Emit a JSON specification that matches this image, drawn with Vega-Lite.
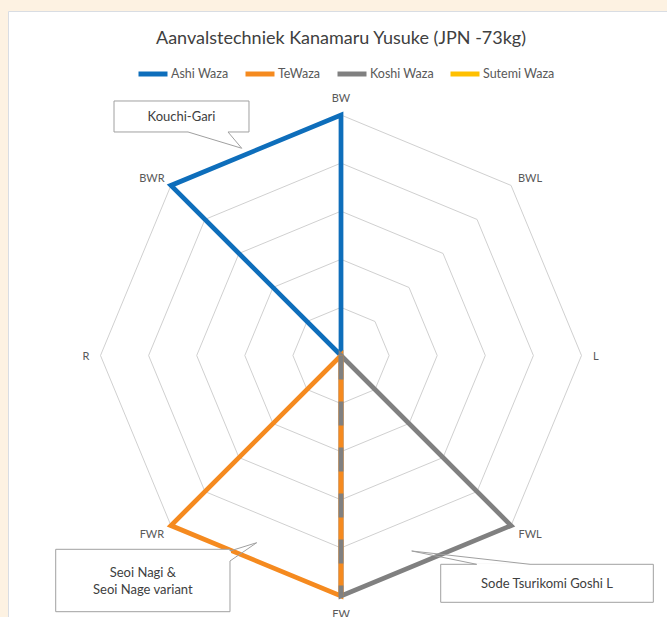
{
  "$schema": "https://vega.github.io/schema/vega-lite/v6.json",
  "autosize": {"type": "none"},
  "width": 661,
  "height": 608,
  "padding": {"left": 8, "top": 11, "right": -2, "bottom": -2},
  "background": "#FDF2E2",
  "config": {"view": {"stroke": "#d9dde3", "fill": "#ffffff"}, "font": "Lato"},
  "title": {
    "text": "Aanvalstechniek Kanamaru Yusuke (JPN -73kg)",
    "frame": "group", "anchor": "middle", "orient": "top", "offset": 0,
    "dy": 51, "dx": 2.5, "baseline": "alphabetic",
    "fontSize": 18, "fontWeight": "normal", "font": "Lato", "color": "#404040"
  },
  "datasets": {
    "dirs": [
      {"dir": "BW", "k": 0}, {"dir": "BWL", "k": 1}, {"dir": "L", "k": 2}, {"dir": "FWL", "k": 3},
      {"dir": "FW", "k": 4}, {"dir": "FWR", "k": 5}, {"dir": "R", "k": 6}, {"dir": "BWR", "k": 7}
    ],
    "rings": [
      {"level": 1, "k": [0, 1, 2, 3, 4, 5, 6, 7]},
      {"level": 2, "k": [0, 1, 2, 3, 4, 5, 6, 7]},
      {"level": 3, "k": [0, 1, 2, 3, 4, 5, 6, 7]},
      {"level": 4, "k": [0, 1, 2, 3, 4, 5, 6, 7]},
      {"level": 5, "k": [0, 1, 2, 3, 4, 5, 6, 7]}
    ],
    "scores": [
      {"series": "Ashi Waza", "dir": "BW", "value": 5},
      {"series": "Ashi Waza", "dir": "BWL", "value": 0},
      {"series": "Ashi Waza", "dir": "L", "value": 0},
      {"series": "Ashi Waza", "dir": "FWL", "value": 0},
      {"series": "Ashi Waza", "dir": "FW", "value": 0},
      {"series": "Ashi Waza", "dir": "FWR", "value": 0},
      {"series": "Ashi Waza", "dir": "R", "value": 0},
      {"series": "Ashi Waza", "dir": "BWR", "value": 5},
      {"series": "TeWaza", "dir": "BW", "value": 0},
      {"series": "TeWaza", "dir": "BWL", "value": 0},
      {"series": "TeWaza", "dir": "L", "value": 0},
      {"series": "TeWaza", "dir": "FWL", "value": 0},
      {"series": "TeWaza", "dir": "FW", "value": 5},
      {"series": "TeWaza", "dir": "FWR", "value": 5},
      {"series": "TeWaza", "dir": "R", "value": 0},
      {"series": "TeWaza", "dir": "BWR", "value": 0},
      {"series": "Koshi Waza", "dir": "BW", "value": 0},
      {"series": "Koshi Waza", "dir": "BWL", "value": 0},
      {"series": "Koshi Waza", "dir": "L", "value": 0},
      {"series": "Koshi Waza", "dir": "FWL", "value": 5},
      {"series": "Koshi Waza", "dir": "FW", "value": 5},
      {"series": "Koshi Waza", "dir": "FWR", "value": 0},
      {"series": "Koshi Waza", "dir": "R", "value": 0},
      {"series": "Koshi Waza", "dir": "BWR", "value": 0},
      {"series": "Sutemi Waza", "dir": "BW", "value": 0},
      {"series": "Sutemi Waza", "dir": "BWL", "value": 0},
      {"series": "Sutemi Waza", "dir": "L", "value": 0},
      {"series": "Sutemi Waza", "dir": "FWL", "value": 0},
      {"series": "Sutemi Waza", "dir": "FW", "value": 0},
      {"series": "Sutemi Waza", "dir": "FWR", "value": 0},
      {"series": "Sutemi Waza", "dir": "R", "value": 0},
      {"series": "Sutemi Waza", "dir": "BWR", "value": 0}
    ],
    "notes": [
      {"note": "Kouchi-Gari", "left": -4.719, "right": -1.913, "top": 5.291, "bottom": 4.647, "cx": -3.316, "cy": 4.958},
      {"note": "Seoi Nagi &\nSeoi Nage variant", "left": -5.931, "right": -2.308, "top": -4.029, "bottom": -5.326, "cx": -4.119, "cy": -4.516},
      {"note": "Sode Tsurikomi Goshi L", "left": 2.073, "right": 6.493, "top": -4.341, "bottom": -5.131, "cx": 4.283, "cy": -4.740}
    ],
    "pointers": [
      {"note": "Kouchi-Gari", "ax": -3.181, "ay": 4.647, "bx": -2.349, "by": 4.647, "tx": -2.064, "ty": 4.308},
      {"note": "Seoi Nagi &\nSeoi Nage variant", "ax": -2.308, "ay": -4.064, "bx": -2.308, "by": -4.272, "tx": -1.753, "ty": -3.892},
      {"note": "Sode Tsurikomi Goshi L", "ax": 2.821, "ay": -4.341, "bx": 3.929, "by": -4.341, "tx": 1.470, "ty": -4.064}
    ]
  },
  "layer": [
    {
      "data": {"name": "rings"},
      "transform": [
        {"flatten": ["k"]},
        {"calculate": "datum.level * sin(datum.k * PI / 4)", "as": "x"},
        {"calculate": "datum.level * cos(datum.k * PI / 4)", "as": "y"}
      ],
      "mark": {"type": "line", "interpolate": "linear-closed", "stroke": "#d0d0d0", "strokeWidth": 1},
      "encoding": {
        "x": {"field": "x", "type": "quantitative", "axis": null, "scale": {"domain": [-6.923, 6.819], "nice": false, "zero": false}},
        "y": {"field": "y", "type": "quantitative", "axis": null, "scale": {"domain": [-5.478, 7.162], "nice": false, "zero": false}},
        "detail": {"field": "level", "type": "nominal"},
        "order": {"field": "k", "type": "quantitative"}
      }
    },
    {
      "data": {"name": "scores"},
      "transform": [
        {"lookup": "dir", "from": {"data": {"name": "dirs"}, "key": "dir", "fields": ["k"]}},
        {"calculate": "datum.value * sin(datum.k * PI / 4)", "as": "x"},
        {"calculate": "datum.value * cos(datum.k * PI / 4)", "as": "y"}
      ],
      "mark": {"type": "line", "interpolate": "linear-closed", "strokeWidth": 4.75, "strokeJoin": "miter"},
      "encoding": {
        "x": {"field": "x", "type": "quantitative", "axis": null, "scale": {"domain": [-6.923, 6.819], "nice": false, "zero": false}},
        "y": {"field": "y", "type": "quantitative", "axis": null, "scale": {"domain": [-5.478, 7.162], "nice": false, "zero": false}},
        "color": {
          "field": "series", "type": "nominal",
          "scale": {"domain": ["Ashi Waza", "TeWaza", "Koshi Waza", "Sutemi Waza"], "range": ["#0E6EBB", "#F58A1F", "#808080", "#FFC000"]},
          "legend": {
            "orient": "none", "legendX": 128, "legendY": 46, "direction": "horizontal", "title": null,
            "symbolType": "stroke", "symbolSize": 841, "symbolStrokeWidth": 5,
            "labelFontSize": 12.5, "labelFont": "Lato", "labelColor": "#595959",
            "columnPadding": 6, "labelOffset": 1, "padding": 0
          }
        },
        "order": {"field": "k", "type": "quantitative"}
      }
    },
    {
      "data": {"name": "scores"},
      "transform": [
        {"filter": "datum.dir == 'FW' && (datum.series == 'TeWaza' || datum.series == 'Koshi Waza')"},
        {"lookup": "dir", "from": {"data": {"name": "dirs"}, "key": "dir", "fields": ["k"]}},
        {"calculate": "datum.value * sin(datum.k * PI / 4)", "as": "x"},
        {"calculate": "datum.value * cos(datum.k * PI / 4)", "as": "y"},
        {"calculate": "0", "as": "cx"},
        {"calculate": "0", "as": "cy"}
      ],
      "layer": [
        {
          "transform": [{"filter": "datum.series == 'TeWaza'"}],
          "mark": {"type": "rule", "stroke": "#F58A1F", "strokeWidth": 4.75}
        },
        {
          "transform": [{"filter": "datum.series == 'Koshi Waza'"}],
          "mark": {"type": "rule", "stroke": "#808080", "strokeWidth": 4.75, "strokeDash": [24, 22]}
        }
      ],
      "encoding": {
        "x": {"field": "cx", "type": "quantitative"},
        "y": {"field": "cy", "type": "quantitative"},
        "x2": {"field": "x"},
        "y2": {"field": "y"}
      }
    },
    {
      "data": {"name": "dirs"},
      "transform": [
        {"calculate": "(datum.k % 2 == 0 ? 5.3 : 5.56) * sin(datum.k * PI / 4)", "as": "x"},
        {"calculate": "(datum.k % 2 == 0 ? 5.36 : 5.23) * cos(datum.k * PI / 4) - 0.03", "as": "y"}
      ],
      "mark": {"type": "text", "fontSize": 11, "font": "Lato", "color": "#595959", "align": "center", "baseline": "middle"},
      "encoding": {
        "x": {"field": "x", "type": "quantitative"},
        "y": {"field": "y", "type": "quantitative"},
        "text": {"field": "dir", "type": "nominal"}
      }
    },
    {
      "data": {"name": "notes"},
      "mark": {"type": "rect", "fill": "#ffffff", "stroke": "#a0a0a0", "strokeWidth": 1},
      "encoding": {
        "x": {"field": "left", "type": "quantitative"},
        "x2": {"field": "right"},
        "y": {"field": "top", "type": "quantitative"},
        "y2": {"field": "bottom"}
      }
    },
    {
      "data": {"name": "pointers"},
      "layer": [
        {
          "mark": {"type": "rule", "stroke": "#ffffff", "strokeWidth": 2},
          "encoding": {
            "x": {"field": "ax", "type": "quantitative"}, "x2": {"field": "bx"},
            "y": {"field": "ay", "type": "quantitative"}, "y2": {"field": "by"}
          }
        },
        {
          "mark": {"type": "rule", "stroke": "#a0a0a0", "strokeWidth": 1},
          "encoding": {
            "x": {"field": "ax", "type": "quantitative"}, "x2": {"field": "tx"},
            "y": {"field": "ay", "type": "quantitative"}, "y2": {"field": "ty"}
          }
        },
        {
          "mark": {"type": "rule", "stroke": "#a0a0a0", "strokeWidth": 1},
          "encoding": {
            "x": {"field": "bx", "type": "quantitative"}, "x2": {"field": "tx"},
            "y": {"field": "by", "type": "quantitative"}, "y2": {"field": "ty"}
          }
        }
      ]
    },
    {
      "data": {"name": "notes"},
      "mark": {"type": "text", "fontSize": 13, "font": "Lato", "color": "#404040", "align": "center", "baseline": "middle", "lineBreak": "\n", "lineHeight": 17.5},
      "encoding": {
        "x": {"field": "cx", "type": "quantitative"},
        "y": {"field": "cy", "type": "quantitative"},
        "text": {"field": "note", "type": "nominal"}
      }
    }
  ]
}
